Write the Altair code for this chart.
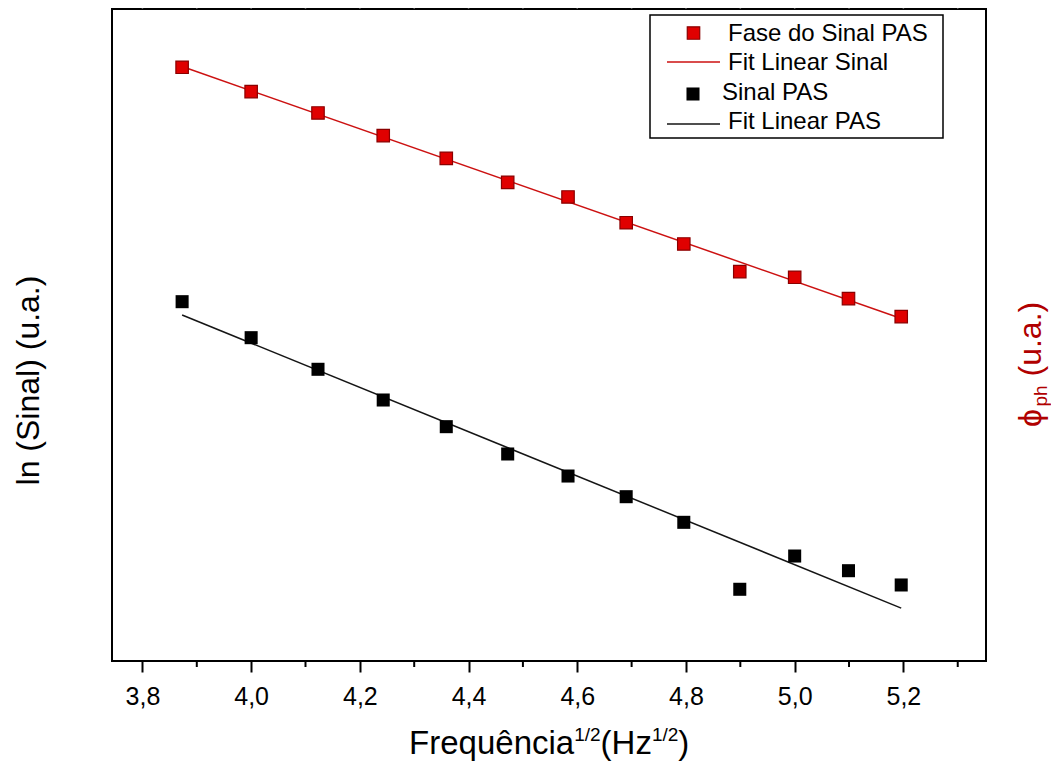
import altair as alt
import pandas as pd

# ---- data (arbitrary units, u.a.) ----
x_vals = [3.873, 4.000, 4.123, 4.243, 4.359, 4.472, 4.583, 4.690, 4.796, 4.899, 5.000, 5.099, 5.196]
fase_vals = [9.106, 8.732, 8.405, 8.057, 7.710, 7.342, 7.117, 6.722, 6.396, 5.971, 5.885, 5.557, 5.281]
sinal_vals = [5.511, 4.959, 4.474, 4.003, 3.594, 3.175, 2.837, 2.520, 2.127, 1.100, 1.610, 1.385, 1.166]
major_ticks = [3.8, 4.0, 4.2, 4.4, 4.6, 4.8, 5.0, 5.2]
minor_ticks = [3.9, 4.1, 4.3, 4.5, 4.7, 4.9, 5.1, 5.3]
top_ticks = [3.8, 3.9, 4.0, 4.1, 4.2, 4.3, 4.4, 4.5, 4.6, 4.7, 4.8, 4.9, 5.0, 5.1, 5.2, 5.3]
legend_labels = ["Fase do Sinal PAS", "Fit Linear Sinal", "Sinal PAS", "Fit Linear PAS"]
xtitle_parts = ["Frequência", "1/2", "(Hz", "1/2", ")"]
ytitle_left = "ln (Sinal) (u.a.)"
ytitle_right_parts = ["ϕ", "ph", "(u.a.)"]

df = pd.DataFrame({"x": x_vals, "fase": fase_vals, "sinal": sinal_vals})
df_minor = pd.DataFrame({"x": minor_ticks})
df_top = pd.DataFrame({"x": top_ticks})

FONT = "Liberation Sans"
W, H = 874, 652
RED_FILL = "#e00000"
RED_EDGE = "#8a0000"
RED_LINE = "#cc1111"
RED_TITLE = "#b00000"

xscale = alt.Scale(domain=[3.744, 5.352], nice=False, zero=False)
x_axis = alt.Axis(values=major_ticks, title=None, grid=False, domain=False,
                  labelExpr="replace(format(datum.value, '.1f'), '.', ',')",
                  tickSize=11, tickWidth=2, tickColor="black",
                  labelFontSize=25, labelFont=FONT, labelColor="black",
                  labelPadding=12, labelFlush=False)
X = alt.X("x:Q", scale=xscale, axis=x_axis)

left_axis = alt.Axis(title=ytitle_left, labels=False, ticks=False, domain=False, grid=False,
                     titleFont=FONT, titleFontSize=32, titleFontWeight="normal",
                     titleColor="black", titleAngle=270, titleAlign="center",
                     titleBaseline="alphabetic", titleX=-74, titleY=371)
right_axis = alt.Axis(orient="right", title=None, labels=False, ticks=False,
                      domain=False, grid=False)

yl = alt.Y("sinal:Q", scale=alt.Scale(domain=[0, 10], nice=False, zero=False), axis=left_axis)
yr = alt.Y("fase:Q", scale=alt.Scale(domain=[0, 10], nice=False, zero=False), axis=right_axis)

black_base = alt.Chart(df).encode(x=X, y=yl)
black_pts = black_base.mark_square(size=170, color="black", opacity=1)
black_fit = black_base.transform_regression("x", "sinal").mark_line(color="#151515", strokeWidth=1.5)
black_layer = alt.layer(black_fit, black_pts)

red_base = alt.Chart(df).encode(x=X, y=yr)
red_pts = red_base.mark_square(size=155, fill=RED_FILL, stroke=RED_EDGE, strokeWidth=1.2, opacity=1)
red_fit = red_base.transform_regression("x", "fase").mark_line(color=RED_LINE, strokeWidth=1.5)
red_layer = alt.layer(red_fit, red_pts)

one = alt.Data(values=[{}])

minor = alt.Chart(df_minor).mark_rule(color="black", strokeWidth=2).encode(
    x=X, y=alt.value(H), y2=alt.value(H + 6))
topt = alt.Chart(df_top).mark_rule(color="#555555", strokeWidth=1.5).encode(
    x=X, y=alt.value(-3), y2=alt.value(0))

# legend box and entries
box = alt.Chart(one).mark_rect(fill="white", stroke="black", strokeWidth=1.5).encode(
    x=alt.value(538), x2=alt.value(831), y=alt.value(6), y2=alt.value(129))
leg1_sym = alt.Chart(one).mark_square(size=155, fill=RED_FILL, stroke=RED_EDGE, strokeWidth=1.2, opacity=1).encode(
    x=alt.value(581.5), y=alt.value(24))
leg2_sym = alt.Chart(one).mark_rule(color=RED_LINE, strokeWidth=1.5).encode(
    x=alt.value(555), x2=alt.value(608), y=alt.value(53))
leg3_sym = alt.Chart(one).mark_square(size=170, color="black", opacity=1).encode(
    x=alt.value(581), y=alt.value(85))
leg4_sym = alt.Chart(one).mark_rule(color="#151515", strokeWidth=1.5).encode(
    x=alt.value(555), x2=alt.value(608), y=alt.value(115))

def txt(s, x, y, size, color="black", angle=0, baseline="alphabetic"):
    return alt.Chart(one).mark_text(font=FONT, fontSize=size, align="left", baseline=baseline,
                                    color=color, angle=angle).encode(
        text=alt.value(s), x=alt.value(x), y=alt.value(y))

leg_txt = [
    txt(legend_labels[0], 616, 25, 24, baseline="middle"),
    txt(legend_labels[1], 616, 54, 24, baseline="middle"),
    txt(legend_labels[2], 610, 84, 24, baseline="middle"),
    txt(legend_labels[3], 616, 113, 24, baseline="middle"),
]

# x title with superscripts
xt = [
    txt(xtitle_parts[0], 297.1, 745, 33),
    txt(xtitle_parts[1], 462.2, 732, 19),
    txt(xtitle_parts[2], 488.6, 745, 33),
    txt(xtitle_parts[3], 539.9, 732, 19),
    txt(xtitle_parts[4], 566.3, 745, 33),
]

# right title, rotated, with subscript
rt = [
    txt(ytitle_right_parts[0], 929, 418, 32, color=RED_TITLE, angle=270),
    txt(ytitle_right_parts[1], 935, 397.5, 19, color=RED_TITLE, angle=270),
    txt(ytitle_right_parts[2], 929, 367.5, 32, color=RED_TITLE, angle=270),
]

chart = alt.layer(
    black_layer, red_layer, minor, topt, box,
    leg1_sym, leg2_sym, leg3_sym, leg4_sym, *leg_txt, *xt, *rt
).resolve_scale(y="independent").properties(
    width=W, height=H,
    autosize=alt.AutoSizeParams(type="none"),
    padding={"left": 104, "top": 1, "right": 65, "bottom": 100},
    background="white",
).configure_view(stroke="black", strokeWidth=2)

chart.save("out.html", embed_options={"renderer": "svg", "actions": False})
